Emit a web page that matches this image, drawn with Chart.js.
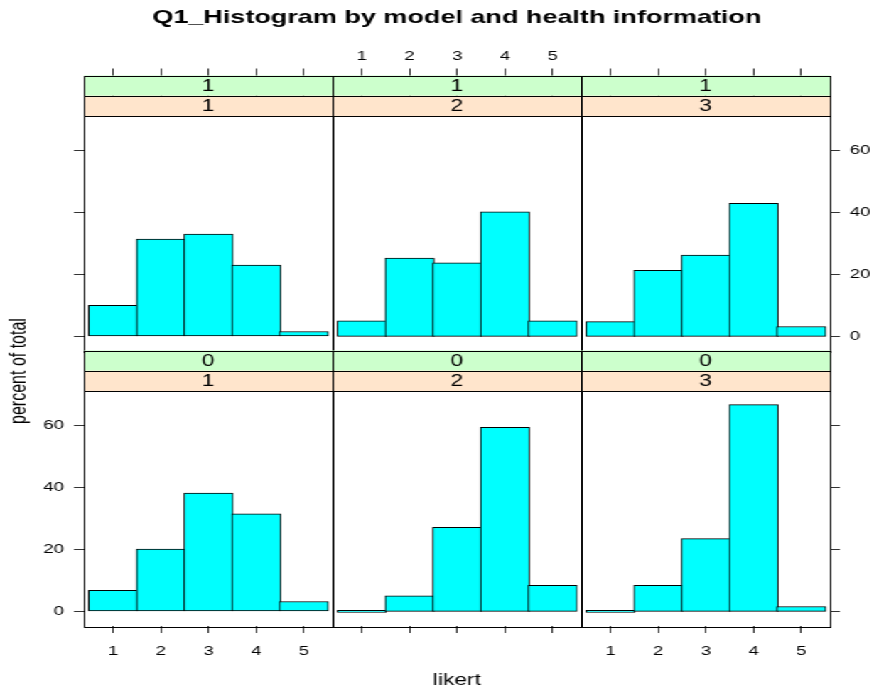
<!DOCTYPE html>
<html>
<head>
<meta charset="utf-8">
<script src="https://cdn.jsdelivr.net/npm/chart.js@4/dist/chart.umd.min.js"></script>
<style>
  html, body { margin: 0; padding: 0; background: #fff; overflow: hidden; }
  /* the reference is drawn wide: render narrow, then stretch horizontally */
  #stage { position: absolute; left: 0; top: 0; width: 615px; height: 691px;
           transform-origin: 0 0; transform: scaleX(1.42114); }
  #stage canvas { position: absolute; left: 0; top: 0; }
</style>
</head>
<body>
<div id="stage"></div>
<script>
// ---- data (percent of total per likert answer) ----
const likert     = [1, 2, 3, 4, 5];
const yTicks     = [0, 20, 40, 60];
const models     = ['1', '2', '3'];     // inner strip (orange)
const healthRows = ['1', '0'];          // outer strip (green), top row first

const pctH1M1 = [10.0, 31.4, 33.0, 23.0, 1.6];
const pctH1M2 = [5.0, 25.3, 23.7, 40.2, 5.0];
const pctH1M3 = [4.8, 21.3, 26.2, 42.9, 3.2];
const pctH0M1 = [6.8, 20.1, 38.2, 31.5, 3.2];
const pctH0M2 = [0, 5.0, 27.1, 59.4, 8.4];
const pctH0M3 = [0, 8.4, 23.5, 66.7, 1.6];

const rows = [[pctH1M1, pctH1M2, pctH1M3], [pctH0M1, pctH0M2, pctH0M3]];

// ---- layout (unstretched px) ----
const W = 615, H = 691;
const colEdges = [59, 234, 409, 584];
const rowTop = [116, 391], rowBottom = [351, 626];
const xMin = 0.385, xMax = 5.6, yMin = -4.7, yMax = 71.1;
const FONT = '"Liberation Sans", Arial, Helvetica, sans-serif';
const AX = { top: 75, bottom: 40, left: 50, right: 30 };        // fixed axis box sizes
const TICKPAD = { top: 4, bottom: 11, left: 7, right: 7 };     // label gap after tick mark
const barPx = (colEdges[1] - colEdges[0]) / (xMax - xMin) + 1;   // 1px overlap so borders merge

const latticePlugin = {
  id: 'lattice',
  afterDraw(chart, args, o) {
    const { ctx, chartArea: a } = chart;
    const sh = 20.25;
    const px = v => Math.round(v) + 0.5;
    ctx.save();
    ctx.fillStyle = '#CCFFCC';
    ctx.fillRect(a.left, a.top - 2 * sh, a.width, sh);
    ctx.fillStyle = '#FFE5CC';
    ctx.fillRect(a.left, a.top - sh, a.width, sh);
    ctx.strokeStyle = '#000';
    ctx.lineWidth = 1;
    ctx.beginPath();
    ctx.moveTo(a.left, px(a.top - sh)); ctx.lineTo(a.right, px(a.top - sh));
    ctx.moveTo(a.left, px(a.top));      ctx.lineTo(a.right, px(a.top));
    ctx.stroke();
    ctx.strokeRect(px(a.left), px(a.top - 2 * sh), Math.round(a.width), Math.round(a.height + 2 * sh));

    ctx.fillStyle = '#000';
    ctx.font = '16px ' + FONT;
    ctx.textAlign = 'center';
    ctx.textBaseline = 'middle';
    const cx = (a.left + a.right) / 2;
    ctx.fillText(o.outer, cx, a.top - 1.5 * sh + 1);
    ctx.fillText(o.inner, cx, a.top - 0.5 * sh + 1);

    if (o.labels) {
      const mid = (colEdges[0] + colEdges[3]) / 2;
      ctx.font = 'bold 19px ' + FONT;
      ctx.fillText('Q1_Histogram by model and health information', mid, 18);
      ctx.font = '16px ' + FONT;
      ctx.textBaseline = 'alphabetic';
      ctx.fillText('likert', mid, 685);
      ctx.translate(17.6, 371);
      ctx.rotate(-Math.PI / 2);
      ctx.fillText('percent of total', 0, 0);
    }
    ctx.restore();
  }
};

function axis(position, show, labels, tickLen, min, max, ticks) {
  return {
    type: 'linear', position, min, max, display: show, offset: false,
    afterBuildTicks: s => { s.ticks = ticks.map(v => ({ value: v })); },
    afterFit: s => {
      if (!show) return;
      if (s.isHorizontal()) s.height = AX[position]; else s.width = AX[position];
      s.paddingLeft = s.paddingRight = s.paddingTop = s.paddingBottom = 0;
    },
    grid: { drawOnChartArea: false, drawTicks: true, offset: false, tickLength: tickLen,
            color: '#333', lineWidth: 1 },
    border: { display: false },
    ticks: { display: labels, font: { family: FONT, size: 13 }, color: '#000',
             padding: TICKPAD[position], maxRotation: 0, autoSkip: false }
  };
}

const stage = document.getElementById('stage');
rows.forEach((row, r) => {
  row.forEach((pct, c) => {
    const cv = document.createElement('canvas');
    cv.width = W; cv.height = H;
    stage.appendChild(cv);
    const pad = {
      left:   colEdges[c] - (c === 0 ? AX.left : 0),
      right:  W - colEdges[c + 1] - (c === 2 ? AX.right : 0),
      top:    rowTop[r] - (r === 0 ? AX.top : 0),
      bottom: H - rowBottom[r] - (r === 1 ? AX.bottom : 0)
    };
    new Chart(cv, {
      type: 'bar',
      data: {
        datasets: [{
          data: likert.map((v, i) => ({ x: v, y: pct[i] })),
          backgroundColor: '#00FFFF',
          borderColor: '#000',
          borderWidth: 1,
          borderSkipped: false,
          barThickness: barPx,
          minBarLength: 2
        }]
      },
      options: {
        responsive: false,
        animation: false,
        devicePixelRatio: 1,
        layout: { padding: pad },
        plugins: {
          legend: { display: false },
          tooltip: { enabled: false },
          lattice: { outer: healthRows[r], inner: models[c], labels: r === 0 && c === 0 }
        },
        scales: {
          x:  axis('bottom', r === 1, c !== 1, 7, xMin, xMax, likert),
          x2: axis('top',    r === 0, c === 1, 47.5, xMin, xMax, likert),
          y:  axis('left',   c === 0, r === 1, 7, yMin, yMax, yTicks),
          y2: axis('right',  c === 2, r === 0, 7, yMin, yMax, yTicks)
        }
      },
      plugins: [latticePlugin]
    });
  });
});
</script>
</body>
</html>
